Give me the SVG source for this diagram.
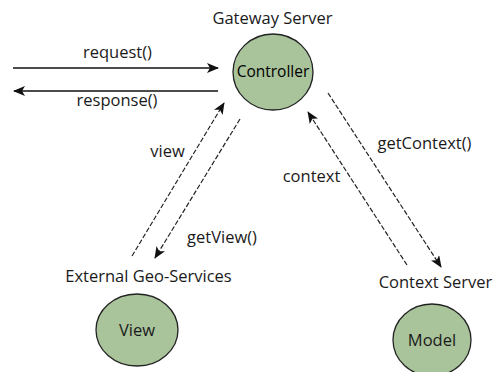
<svg xmlns="http://www.w3.org/2000/svg" width="496" height="372" viewBox="0 0 496 372">
<style>
text{font-family:"Open Sans","DejaVu Sans",sans-serif;font-size:16.5px;fill:#1a1a1a}
.node{fill:#a9c39b;stroke:#222;stroke-width:1.3}
.solid{stroke:#111;stroke-width:1.4;fill:none}
.dash{stroke:#222;stroke-width:1.2;stroke-dasharray:5,2;fill:none}
.lbl{text-anchor:middle}
</style>
<defs>
<marker id="ah" viewBox="0 0 12 10" refX="11" refY="5" markerWidth="12" markerHeight="10" markerUnits="userSpaceOnUse" orient="auto">
<path d="M0,0 L12,5 L0,10 L3,5 Z" fill="#111"/>
</marker>
</defs>
<rect width="496" height="372" fill="#fff"/>
<g id="connectors">
<line class="solid" x1="13" y1="68" x2="218" y2="68" marker-end="url(#ah)"/>
<line class="solid" x1="218" y1="91" x2="14" y2="91" marker-end="url(#ah)"/>
<line class="dash" x1="132" y1="256" x2="224" y2="103" marker-end="url(#ah)"/>
<line class="dash" x1="240" y1="119" x2="155" y2="258" marker-end="url(#ah)"/>
<line class="dash" x1="407" y1="265" x2="308" y2="112" marker-end="url(#ah)"/>
<line class="dash" x1="328" y1="93" x2="441" y2="267" marker-end="url(#ah)"/>
<text x="117.5" y="58" class="lbl">request()</text>
<text x="117" y="106" class="lbl">response()</text>
<text x="167.5" y="157" class="lbl">view</text>
<text x="222" y="243" class="lbl">getView()</text>
<text x="311.5" y="182" class="lbl">context</text>
<text x="424.5" y="149" class="lbl">getContext()</text>
</g>
<g id="controller">
<text x="272.5" y="24" class="lbl">Gateway Server</text>
<ellipse class="node" cx="273" cy="72" rx="40" ry="38"/>
<text x="273" y="77" class="lbl" style="font-size:15.5px;fill:#000">Controller</text>
</g>
<g id="view">
<text x="148.5" y="282" class="lbl">External Geo-Services</text>
<ellipse class="node" cx="137" cy="330" rx="41" ry="36"/>
<text x="137" y="336" class="lbl">View</text>
</g>
<g id="model">
<text x="435.5" y="288" class="lbl">Context Server</text>
<ellipse class="node" cx="432" cy="340" rx="39" ry="36"/>
<text x="432" y="346" class="lbl">Model</text>
</g>
</svg>
